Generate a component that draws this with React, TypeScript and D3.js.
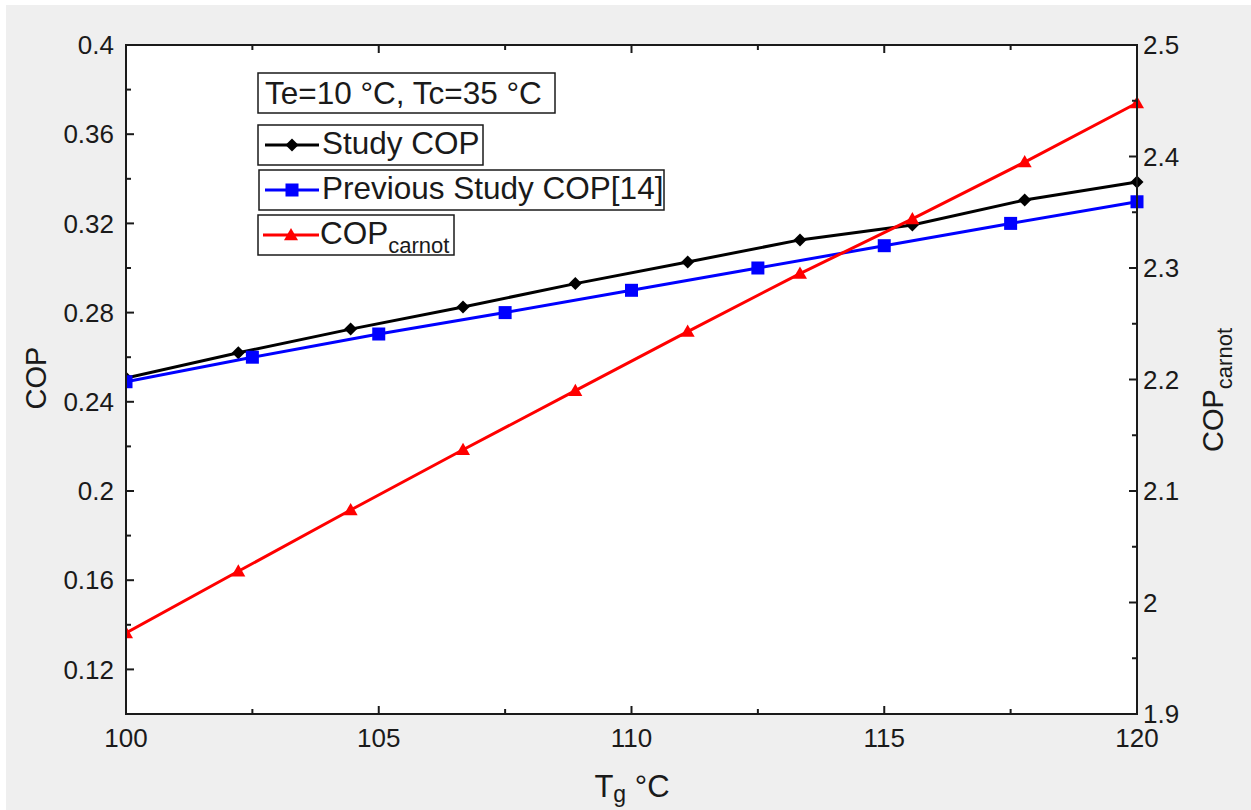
import React from "react";
import * as d3 from "d3";

const studyX = [100, 102.222, 104.444, 106.667, 108.889, 111.111, 113.333, 115.556, 117.778, 120];
const studyCOP = [0.2507, 0.262, 0.2726, 0.2825, 0.293, 0.3027, 0.3126, 0.3193, 0.3305, 0.3386];
const prevX = [100, 102.5, 105, 107.5, 110, 112.5, 115, 117.5, 120];
const prevCOP = [0.249, 0.26, 0.2704, 0.28, 0.29, 0.30, 0.31, 0.32, 0.3297];
const carnotX = [100, 102.222, 104.444, 106.667, 108.889, 111.111, 113.333, 115.556, 117.778, 120];
const carnotCOP = [1.9727, 2.028, 2.083, 2.137, 2.19, 2.243, 2.295, 2.344, 2.395, 2.448];

const xTicks = [100, 105, 110, 115, 120];
const xMinor = [102.5, 107.5, 112.5, 117.5];
const yLeftTicks = [0.12, 0.16, 0.2, 0.24, 0.28, 0.32, 0.36, 0.4];
const yLeftMinor = [0.1, 0.14, 0.18, 0.22, 0.26, 0.3, 0.34, 0.38];
const yRightTicks = [1.9, 2, 2.1, 2.2, 2.3, 2.4, 2.5];
const yRightMinor = [1.95, 2.05, 2.15, 2.25, 2.35, 2.45];

const W = 1251, H = 810;
const L = 126, R = 1137, T = 45, B = 714;
const FONT = "'Liberation Sans', Arial, sans-serif";
const TXT = "#1a1a1a";
const LEG = 31.5;

export default function App() {
  const x = d3.scaleLinear().domain([100, 120]).range([L, R]);
  const yL = d3.scaleLinear().domain([0.1, 0.4]).range([B, T]);
  const yR = d3.scaleLinear().domain([1.9, 2.5]).range([B, T]);
  const line = d3.line<[number, number]>().x(d => d[0]).y(d => d[1]);

  const studyPts: [number, number][] = studyX.map((v, i) => [x(v), yL(studyCOP[i])]);
  const prevPts: [number, number][] = prevX.map((v, i) => [x(v), yL(prevCOP[i])]);
  const carnotPts: [number, number][] = carnotX.map((v, i) => [x(v), yR(carnotCOP[i])]);

  const diamond = (cx: number, cy: number, s = 6.5) => `M${cx},${cy - s}L${cx + s},${cy}L${cx},${cy + s}L${cx - s},${cy}Z`;
  const tri = (cx: number, cy: number, s = 7) => `M${cx},${cy - s}L${cx + s},${cy + s * 0.75}L${cx - s},${cy + s * 0.75}Z`;

  return (
    <svg width={W} height={H} style={{ position: "absolute", left: 0, top: 0 }}>
      <rect x={0} y={0} width={W} height={H} fill="#ffffff" />
      <rect x={6} y={5} width={W - 6} height={H - 5} fill="#efefef" />
      <defs>
        <clipPath id="clip"><rect x={L} y={T} width={R - L + 8} height={B - T} /></clipPath>
      </defs>
      <rect x={L} y={T} width={R - L} height={B - T} fill="#ffffff" />

      <g clipPath="url(#clip)">
        <path d={line(studyPts) || ""} fill="none" stroke="#000" strokeWidth={3} />
        {studyPts.map((p, i) => <path key={"s" + i} d={diamond(p[0], p[1])} fill="#000" />)}
        <path d={line(prevPts) || ""} fill="none" stroke="#0000ff" strokeWidth={3} />
        {prevPts.map((p, i) => <rect key={"p" + i} x={p[0] - 6.5} y={p[1] - 6.5} width={13} height={13} fill="#0000ff" />)}
        <path d={line(carnotPts) || ""} fill="none" stroke="#ff0000" strokeWidth={3} />
        {carnotPts.map((p, i) => <path key={"c" + i} d={tri(p[0], p[1])} fill="#ff0000" />)}
      </g>

      {/* frame */}
      <rect x={L} y={T} width={R - L} height={B - T} fill="none" stroke="#1a1a1a" strokeWidth={2} />

      {/* x ticks */}
      {xTicks.concat(xMinor).map((t, i) => {
        const len = xTicks.includes(t) ? 8 : 5;
        return (
          <g key={"xt" + i}>
            <line x1={x(t)} x2={x(t)} y1={B} y2={B - len} stroke="#1a1a1a" strokeWidth={2} />
            <line x1={x(t)} x2={x(t)} y1={T} y2={T + len} stroke="#1a1a1a" strokeWidth={2} />
          </g>
        );
      })}
      {xTicks.map((t, i) => (
        <text key={"xl" + i} x={x(t)} y={B + 33} textAnchor="middle" fontFamily={FONT} fontSize={26} fill={TXT}>{t}</text>
      ))}

      {/* left ticks */}
      {yLeftTicks.concat(yLeftMinor).map((t, i) => {
        const len = yLeftTicks.includes(t) ? 8 : 5;
        return <line key={"yl" + i} x1={L} x2={L + len} y1={yL(t)} y2={yL(t)} stroke="#1a1a1a" strokeWidth={2} />;
      })}
      {yLeftTicks.map((t, i) => (
        <text key={"yll" + i} x={L - 12} y={yL(t)} dy="0.35em" textAnchor="end" fontFamily={FONT} fontSize={26} fill={TXT}>{t}</text>
      ))}

      {/* right ticks */}
      {yRightTicks.concat(yRightMinor).map((t, i) => {
        const len = yRightTicks.includes(t) ? 8 : 5;
        return <line key={"yr" + i} x1={R} x2={R - len} y1={yR(t)} y2={yR(t)} stroke="#1a1a1a" strokeWidth={2} />;
      })}
      {yRightTicks.map((t, i) => (
        <text key={"yrl" + i} x={R + 6} y={yR(t)} dy="0.35em" textAnchor="start" fontFamily={FONT} fontSize={26} fill={TXT}>{t}</text>
      ))}

      {/* axis titles */}
      <text transform={`translate(46,378) rotate(-90)`} textAnchor="middle" fontFamily={FONT} fontSize={29} fill={TXT}>COP</text>
      <text x={632} y={797} textAnchor="middle" fontFamily={FONT} fontSize={31} fill={TXT}>
        T<tspan fontSize={23} dy={5}>g</tspan><tspan dy={-5}> °C</tspan>
      </text>
      <text transform={`translate(1223,390) rotate(-90)`} textAnchor="middle" fontFamily={FONT} fontSize={29} fill={TXT}>
        COP<tspan fontSize={22} dy={9}>carnot</tspan>
      </text>

      {/* legend */}
      <rect x={258} y={73} width={297} height={40} fill="#fff" stroke="#1a1a1a" strokeWidth={1.5} />
      <text x={265} y={104} fontFamily={FONT} fontSize={LEG} fill={TXT}>Te=10 °C, Tc=35 °C</text>

      <rect x={258} y={125} width={225} height={40} fill="#fff" stroke="#1a1a1a" strokeWidth={1.5} />
      <line x1={265} x2={319} y1={145} y2={145} stroke="#000" strokeWidth={3} />
      <path d={diamond(292, 145)} fill="#000" />
      <text x={322} y={154} fontFamily={FONT} fontSize={LEG} fill={TXT}>Study COP</text>

      <rect x={259} y={170} width={405} height={40} fill="#fff" stroke="#1a1a1a" strokeWidth={1.5} />
      <line x1={265} x2={319} y1={190} y2={190} stroke="#0000ff" strokeWidth={3} />
      <rect x={285.5} y={183.5} width={13} height={13} fill="#0000ff" />
      <text x={322} y={199} fontFamily={FONT} fontSize={LEG} fill={TXT}>Previous Study COP[14]</text>

      <rect x={258} y={215} width={196} height={40} fill="#fff" stroke="#1a1a1a" strokeWidth={1.5} />
      <line x1={263} x2={319} y1={235} y2={235} stroke="#ff0000" strokeWidth={3} />
      <path d={tri(291, 235)} fill="#ff0000" />
      <text x={320} y={244} fontFamily={FONT} fontSize={LEG} fill={TXT}>
        COP<tspan fontSize={22} dy={9}>carnot</tspan>
      </text>
    </svg>
  );
}
